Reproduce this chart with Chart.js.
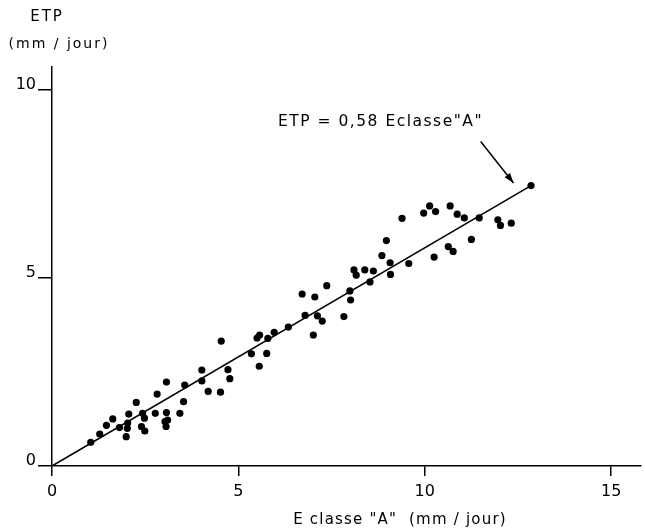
<!DOCTYPE html>
<html>
<head>
<meta charset="utf-8">
<script src="https://cdn.jsdelivr.net/npm/chart.js@4.4.0/dist/chart.umd.min.js"></script>
<style>
  html, body { margin: 0; padding: 0; background: #fff; }
  #wrap { width: 645px; height: 530px; }
</style>
</head>
<body>
<div id="wrap"><canvas id="chart" width="645" height="530"></canvas></div>
<script>
// E classe "A" (mm/jour) for each observed day
const evapA = [
  1.04, 1.28, 1.46, 1.63, 1.81, 1.99, 2.02, 2.03, 2.06, 2.26,
  2.40, 2.43, 2.48, 2.49, 2.77, 2.82, 3.03, 3.06, 3.07, 3.10,
  3.07, 3.43, 3.53, 3.56, 4.02, 4.02, 4.19, 4.52, 4.54, 4.72,
  4.77, 5.35, 5.50, 5.57, 5.56, 5.76, 5.79, 5.96, 6.34, 6.71,
  6.79, 7.01, 7.05, 7.12, 7.25, 7.37, 7.83, 7.99, 8.01, 8.10,
  8.16, 8.39, 8.53, 8.62, 8.85, 8.97, 9.07, 9.08, 9.39, 9.57,
  9.97, 10.13, 10.29, 10.25, 10.63, 10.76, 10.68, 10.87, 11.06, 11.25,
  11.46, 11.96, 12.03, 12.32, 12.85
];
// ETP (mm/jour), same order
const etp = [
  0.63, 0.85, 1.08, 1.25, 1.02, 0.78, 1.00, 1.14, 1.38, 1.69,
  1.05, 1.40, 1.27, 0.93, 1.40, 1.91, 1.18, 1.05, 1.42, 1.22,
  2.23, 1.40, 1.71, 2.15, 2.55, 2.26, 1.98, 1.96, 3.32, 2.56,
  2.32, 2.98, 3.40, 3.48, 2.65, 2.99, 3.39, 3.55, 3.69, 4.57,
  4.00, 3.48, 4.49, 3.99, 3.85, 4.79, 3.97, 4.65, 4.41, 5.21,
  5.07, 5.21, 4.89, 5.18, 5.59, 5.99, 5.40, 5.09, 6.58, 5.38,
  6.72, 6.91, 6.76, 5.55, 5.83, 5.70, 6.91, 6.69, 6.59, 6.02,
  6.59, 6.54, 6.39, 6.45, 7.45
];
// fitted line ETP = 0,58 Eclasse"A" (end points)
const fitX = [0, 12.85];
const fitY = [0, 7.45];

const xTicks = [0, 5, 10, 15];
const yTicks = [0, 5, 10];

const FONT = "'DejaVu Sans', sans-serif";

const points = evapA.map((x, i) => ({ x, y: etp[i] }));
const fitLine = fitX.map((x, i) => ({ x, y: fitY[i] }));

// texts + arrow drawn on top
const labelsPlugin = {
  id: "labels",
  afterDraw(chart) {
    const c = chart.ctx;
    const xs = chart.scales.x, ys = chart.scales.y;
    c.save();
    c.fillStyle = "#000";
    c.strokeStyle = "#000";
    c.textBaseline = "middle";
    c.textAlign = "center";
    c.letterSpacing = "2px";

    c.font = "15px " + FONT;
    c.fillText("ETP", 47, 17);
    c.font = "14px " + FONT;
    c.fillText("(mm / jour)", 59, 44);

    c.font = "15px " + FONT;
    c.letterSpacing = "1.2px";
    c.fillText("E classe \"A\"  (mm / jour)", 400, 520);

    c.textAlign = "left";
    c.letterSpacing = "1.5px";
    c.font = "15.5px " + FONT;
    c.fillText("ETP = 0,58 Eclasse\"A\"", 278, 122);

    // arrow to the line
    const x1 = xs.getPixelForValue(11.5), y1 = ys.getPixelForValue(8.62);
    const x2 = xs.getPixelForValue(12.38), y2 = ys.getPixelForValue(7.52);
    c.lineWidth = 1.5;
    c.beginPath();
    c.moveTo(x1, y1);
    c.lineTo(x2, y2);
    c.stroke();
    const a = Math.atan2(y2 - y1, x2 - x1);
    c.beginPath();
    c.moveTo(x2, y2);
    c.lineTo(x2 - 10 * Math.cos(a) + 3.5 * Math.sin(a), y2 - 10 * Math.sin(a) - 3.5 * Math.cos(a));
    c.lineTo(x2 - 10 * Math.cos(a) - 3.5 * Math.sin(a), y2 - 10 * Math.sin(a) + 3.5 * Math.cos(a));
    c.closePath();
    c.fill();
    c.restore();
  }
};

new Chart(document.getElementById("chart"), {
  type: "scatter",
  data: {
    datasets: [
      {
        data: points,
        pointRadius: 3.6,
        pointBackgroundColor: "#000",
        pointBorderWidth: 0,
        showLine: false
      },
      {
        data: fitLine,
        showLine: true,
        borderColor: "#000",
        borderWidth: 1.6,
        pointRadius: 0
      }
    ]
  },
  options: {
    responsive: false,
    animation: false,
    layout: { padding: { top: 67, right: 0, left: 0, bottom: 0 } },
    plugins: { legend: { display: false }, tooltip: { enabled: false } },
    scales: {
      x: {
        type: "linear",
        min: 0,
        max: 15.8,
        afterBuildTicks: s => { s.ticks = xTicks.map(v => ({ value: v })); },
        afterFit: s => { s.height = 64; },
        border: { display: true, color: "#000", width: 1.5 },
        grid: { drawOnChartArea: false, tickLength: 10, color: "#000", lineWidth: 1.5 },
        ticks: { color: "#000", font: { family: FONT, size: 16 }, padding: 6, maxRotation: 0, autoSkip: false }
      },
      y: {
        type: "linear",
        min: 0,
        max: 10.6,
        afterBuildTicks: s => { s.ticks = yTicks.map(v => ({ value: v })); },
        afterFit: s => { s.width = 52; },
        border: { display: true, color: "#000", width: 1.5 },
        grid: { drawOnChartArea: false, tickLength: 14, color: "#000", lineWidth: 1.5 },
        ticks: { color: "#000", font: { family: FONT, size: 16 }, padding: 2, labelOffset: -5, autoSkip: false }
      }
    }
  },
  plugins: [labelsPlugin]
});
</script>
</body>
</html>
